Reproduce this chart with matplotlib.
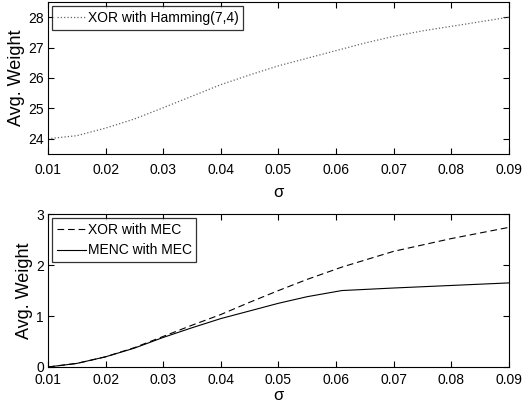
import matplotlib
matplotlib.use("Agg")
import matplotlib.pyplot as plt

plt.rcParams['font.family'] = ['Liberation Sans', 'DejaVu Sans']

sigma_top = [0.01, 0.015, 0.02, 0.025, 0.03, 0.035, 0.04, 0.045, 0.05, 0.055, 0.06, 0.065, 0.07, 0.075, 0.08, 0.085, 0.09]
xor_hamming = [24.0, 24.1, 24.35, 24.65, 25.02, 25.4, 25.78, 26.1, 26.4, 26.65, 26.9, 27.15, 27.37, 27.55, 27.7, 27.85, 28.0]

sigma_bot = [0.01, 0.015, 0.02, 0.025, 0.03, 0.035, 0.04, 0.045, 0.05, 0.055, 0.061, 0.07, 0.08, 0.09]
xor_mec = [0.0, 0.07, 0.2, 0.38, 0.6, 0.82, 1.03, 1.27, 1.5, 1.72, 1.96, 2.27, 2.52, 2.74]
menc_mec = [0.0, 0.07, 0.2, 0.37, 0.58, 0.77, 0.95, 1.1, 1.25, 1.38, 1.5, 1.55, 1.6, 1.65]

xticks = [0.01, 0.02, 0.03, 0.04, 0.05, 0.06, 0.07, 0.08, 0.09]
xtick_labels = ['0.01', '0.02', '0.03', '0.04', '0.05', '0.06', '0.07', '0.08', '0.09']

fig = plt.figure(figsize=(5.29, 4.04), dpi=100)
ax1 = fig.add_axes([0.0907, 0.619, 0.8713, 0.376])
ax2 = fig.add_axes([0.0907, 0.0916, 0.8713, 0.3784])

ax1.plot(sigma_top, xor_hamming, linestyle=':', color='#666666', linewidth=0.9, label='XOR with Hamming(7,4)')
ax1.set_ylim(23.5, 28.5)
ax1.set_yticks([24, 25, 26, 27, 28])

ax2.plot(sigma_bot, xor_mec, linestyle='--', color='black', linewidth=0.8, dashes=(6, 3.5), label='XOR with MEC')
ax2.plot(sigma_bot, menc_mec, linestyle='-', color='black', linewidth=0.8, label='MENC with MEC')
ax2.set_ylim(0, 3)
ax2.set_yticks([0, 1, 2, 3])

for ax, xpad, lpad in ((ax1, 6.5, 6), (ax2, 4.5, 0.5)):
    ax.set_xlim(0.01, 0.09)
    ax.set_xticks(xticks)
    ax.set_xticklabels(xtick_labels)
    ax.tick_params(direction='in', top=True, right=True, labelsize=10, length=4, width=0.8, pad=3)
    ax.tick_params(axis='x', pad=xpad)
    for s in ax.spines.values():
        s.set_linewidth(0.8)
    ax.set_xlabel('σ', fontsize=12, labelpad=lpad)
    ax.set_ylabel('Avg. Weight', fontsize=13, labelpad=2)
    leg = ax.legend(loc='upper left', fontsize=10, frameon=True, fancybox=False,
                    edgecolor='black', borderaxespad=0.3, handlelength=2.1,
                    handletextpad=0.1, borderpad=0.35, labelspacing=0.45)
    leg.get_frame().set_linewidth(0.9)

fig.savefig('out.png', dpi=100)
